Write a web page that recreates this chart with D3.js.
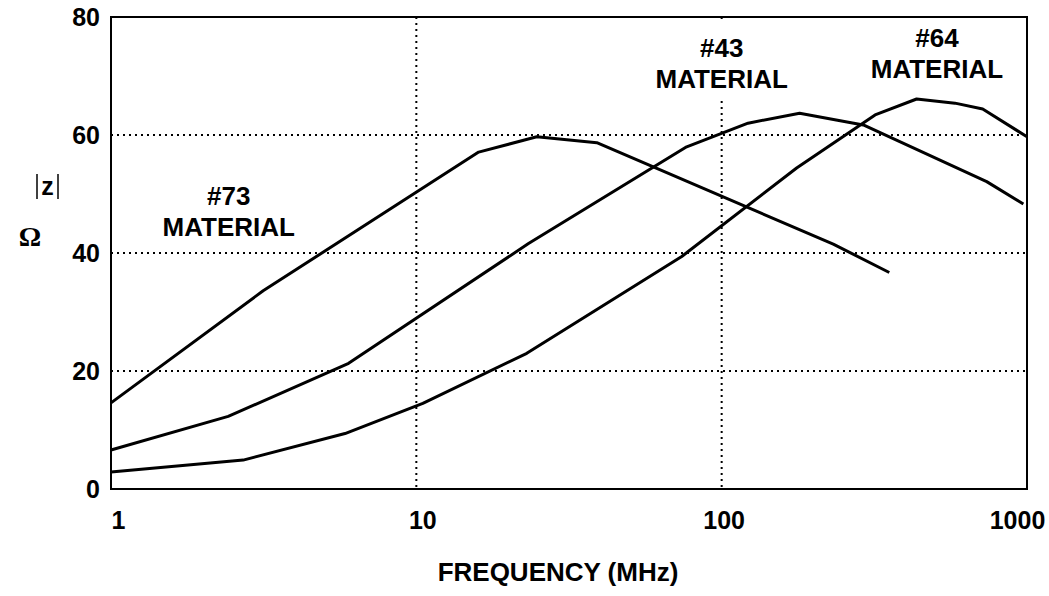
<!DOCTYPE html>
<html>
<head>
<meta charset="utf-8">
<script src="https://cdn.jsdelivr.net/npm/d3@7"></script>
<style>
  body { margin: 0; background: #fff; }
  svg { display: block; font-family: "Liberation Sans", Arial, sans-serif; }
  .tick text { font-size: 25px; font-weight: bold; fill: #000; }
  .lbl { font-size: 26px; font-weight: bold; fill: #000; text-anchor: middle; }
</style>
</head>
<body>
<div id="chart"></div>
<script>
const W = 1049, H = 596;
const margin = {top: 17, right: 22, bottom: 107, left: 111};
const width = W - margin.left - margin.right;
const height = H - margin.top - margin.bottom;

// impedance curves (MHz, ohms)
const freq73 = [1, 3.15, 16, 24.8, 39, 232, 354];
const z73    = [14.6, 33.6, 57.1, 59.7, 58.7, 41.5, 36.7];
const freq43 = [1, 2.42, 6.0, 23.3, 76.8, 122, 180, 291, 738, 973];
const z43    = [6.6, 12.3, 21.3, 41.6, 58.0, 62.0, 63.7, 61.7, 52.1, 48.3];
const freq64 = [1, 2.71, 5.84, 10.5, 23.0, 74.0, 176, 318, 435, 581, 716, 1000];
const z64    = [2.9, 4.9, 9.4, 14.5, 23.0, 39.4, 54.4, 63.4, 66.1, 65.4, 64.4, 59.7];

const xTicks = [1, 10, 100, 1000];
const yTicks = [0, 20, 40, 60, 80];
const xGrid = [10, 100];
const yGrid = [20, 40, 60];

const series = [
  {name: "#73", f: freq73, z: z73},
  {name: "#43", f: freq43, z: z43},
  {name: "#64", f: freq64, z: z64}
];

const svg = d3.select("#chart").append("svg")
  .attr("width", W).attr("height", H);
const g = svg.append("g")
  .attr("transform", "translate(" + margin.left + "," + margin.top + ")");

var x = d3.scaleLog().domain([1, 1000]).range([0, width]);
var y = d3.scaleLinear().domain([0, 80]).range([height, 0]);

// dotted grid
g.selectAll(".vgrid").data(xGrid).enter().append("line")
  .attr("class", "vgrid")
  .attr("x1", d => x(d)).attr("x2", d => x(d))
  .attr("y1", 0).attr("y2", height)
  .attr("stroke", "#000").attr("stroke-width", 2)
  .attr("stroke-dasharray", "2,4");
g.selectAll(".hgrid").data(yGrid).enter().append("line")
  .attr("class", "hgrid")
  .attr("x1", 0).attr("x2", width)
  .attr("y1", d => y(d)).attr("y2", d => y(d))
  .attr("stroke", "#000").attr("stroke-width", 2)
  .attr("stroke-dasharray", "2,4");

// curve labels, white box hides the grid behind them
const labels = [
  {t: "#73", f: 2.43, z: 48.1},
  {t: "#43", f: 100, z: 73.2},
  {t: "#64", f: 507, z: 74.9}
];
labels.forEach(function(l) {
  var lg = g.append("g");
  var bg = lg.append("rect").attr("fill", "#fff");
  lg.append("text").attr("class", "lbl")
    .attr("x", x(l.f)).attr("y", y(l.z))
    .text(l.t);
  lg.append("text").attr("class", "lbl")
    .attr("x", x(l.f)).attr("y", y(l.z) + 31)
    .text("MATERIAL");
  var bb = lg.node().getBBox();
  bg.attr("x", bb.x - 6).attr("y", bb.y - 12)
    .attr("width", bb.width + 12).attr("height", bb.height + 18);
});

var line = d3.line()
  .x(d => x(d[0]))
  .y(d => y(d[1]));

g.selectAll(".curve").data(series).enter().append("path")
  .attr("class", "curve")
  .attr("d", d => line(d3.zip(d.f, d.z)))
  .attr("fill", "none")
  .attr("stroke", "#000")
  .attr("stroke-width", 3)
  .attr("stroke-linejoin", "round");

// frame
g.append("rect")
  .attr("width", width).attr("height", height)
  .attr("fill", "none").attr("stroke", "#000").attr("stroke-width", 2);

// axes
var xShift = {1: 7, 10: 6, 100: 2, 1000: -10};
var xAxis = g.append("g")
  .attr("transform", "translate(0," + height + ")")
  .call(d3.axisBottom(x).tickValues(xTicks).tickFormat(d3.format("d")).tickSize(0).tickPadding(22));
xAxis.select(".domain").remove();
xAxis.selectAll(".tick text").attr("dx", d => xShift[d]);

var yAxis = g.append("g")
  .call(d3.axisLeft(y).tickValues(yTicks).tickSize(0).tickPadding(11));
yAxis.select(".domain").remove();

// axis titles
svg.append("text")
  .attr("x", 558).attr("y", 581)
  .attr("text-anchor", "middle")
  .style("font-size", "26px").style("font-weight", "bold")
  .text("FREQUENCY (MHz)");

// |Z| drawn as bars + letter, then ohm sign below
var zl = svg.append("g");
zl.append("line").attr("x1", 37).attr("x2", 37).attr("y1", 174).attr("y2", 199)
  .attr("stroke", "#000").attr("stroke-width", 1.5);
zl.append("line").attr("x1", 58).attr("x2", 58).attr("y1", 174).attr("y2", 199)
  .attr("stroke", "#000").attr("stroke-width", 1.5);
zl.append("text")
  .attr("x", 47.5).attr("y", 195)
  .attr("text-anchor", "middle")
  .style("font-size", "25px").style("font-weight", "bold")
  .text("z");
svg.append("text")
  .attr("x", 30).attr("y", 246)
  .attr("text-anchor", "middle")
  .style("font-family", "'Liberation Serif', 'Times New Roman', serif")
  .style("font-size", "28px").style("font-weight", "bold")
  .text("Ω");
</script>
</body>
</html>
